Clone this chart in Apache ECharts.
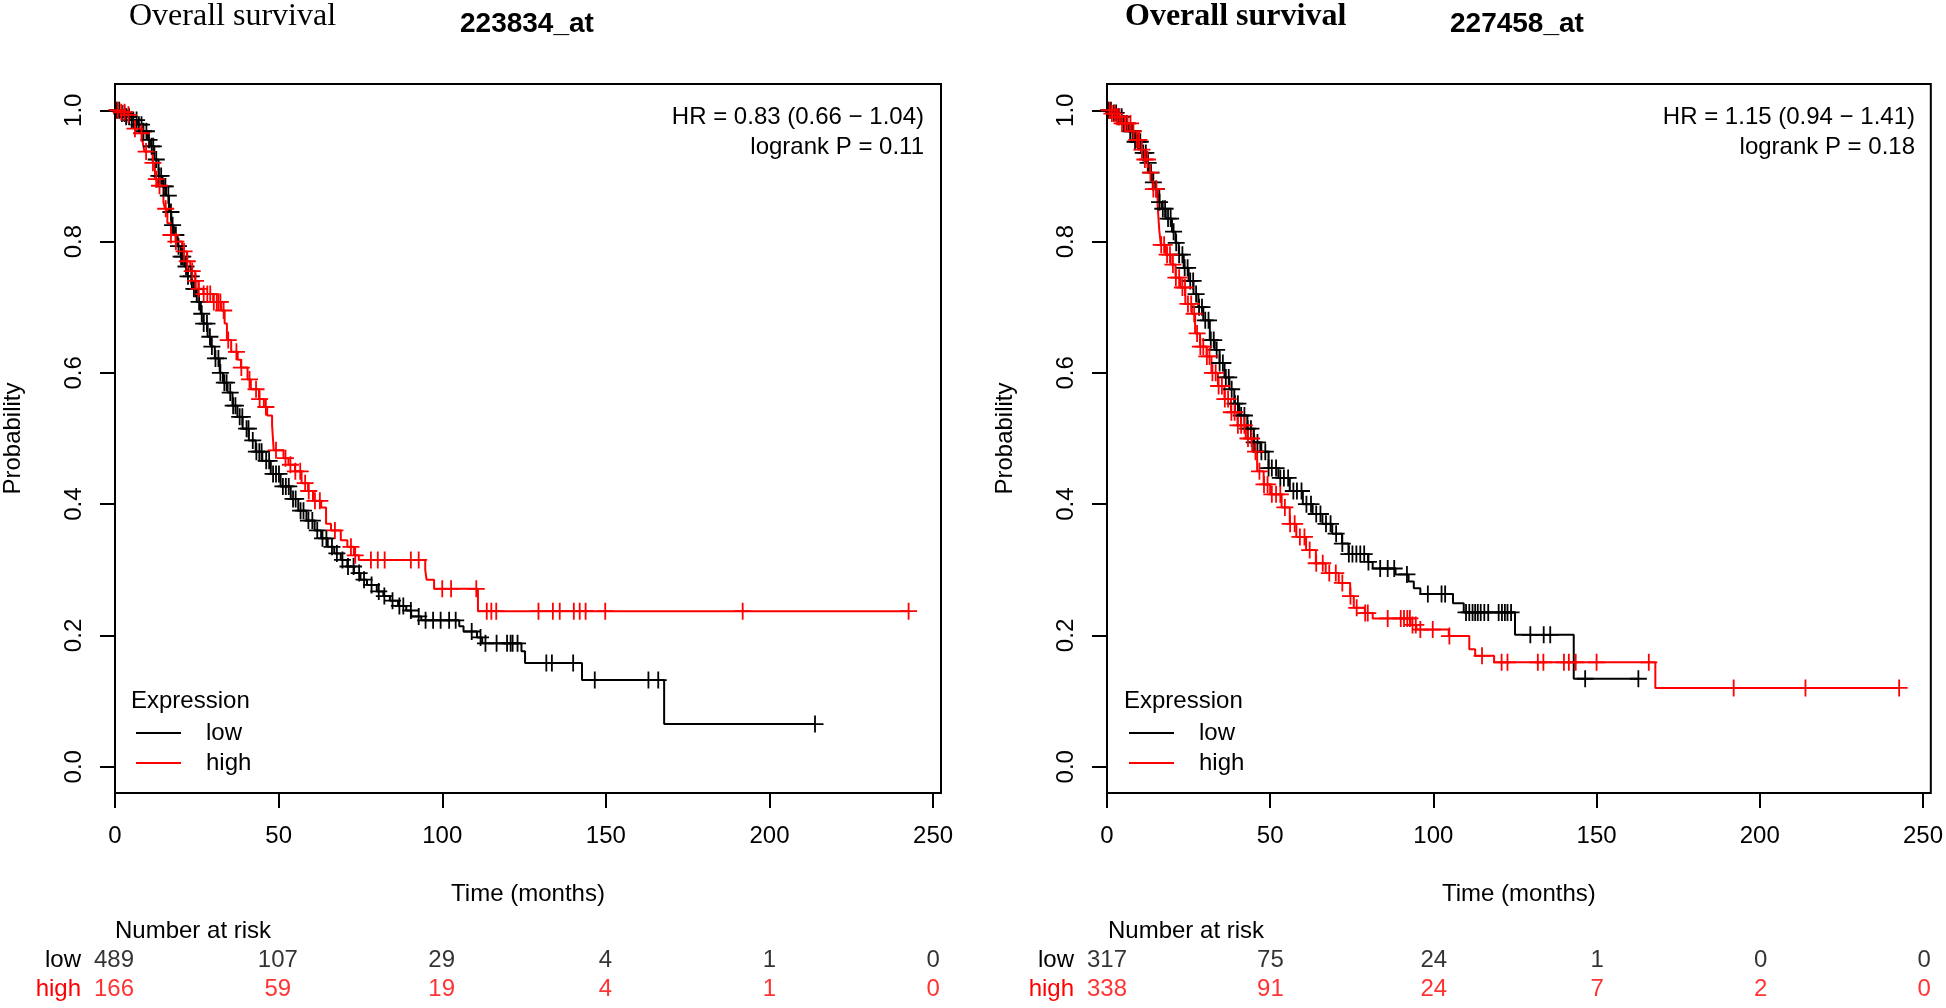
<!DOCTYPE html>
<html><head><meta charset="utf-8">
<script src="https://cdn.jsdelivr.net/npm/echarts@6/dist/echarts.min.js"></script>
<style>html,body{margin:0;padding:0;background:#fff}#c{width:1946px;height:1008px}</style>
</head><body><div id="c"></div>
<script>
// ---------- data ----------
const xTicks = [0, 50, 100, 150, 200, 250];
const yTicks = [0, 0.2, 0.4, 0.6, 0.8, 1.0];
const riskTimes = [0, 50, 100, 150, 200, 250];
const riskRows = ['low', 'high'];
const riskLowA = [489, 107, 29, 4, 1, 0];
const riskHighA = [166, 59, 19, 4, 1, 0];
const riskLowB = [317, 75, 24, 1, 0, 0];
const riskHighB = [338, 91, 24, 7, 2, 0];

const titleA = ['Overall survival', '223834_at'];
const titleB = ['Overall survival', '227458_at'];
const statsA = ['HR = 0.83 (0.66 \u2212 1.04)', 'logrank P = 0.11'];
const statsB = ['HR = 1.15 (0.94 \u2212 1.41)', 'logrank P = 0.18'];

// Kaplan-Meier step points [time, survival]
const kmLowA = [[0,1],[1.5,0.995],[3,0.99],[5,0.985],[7,0.978],[8.5,0.968],[10,0.955],[11,0.945],[12,0.925],[13.3,0.9],[14.5,0.884],[15.6,0.87],[16.5,0.845],[17.2,0.825],[18,0.81],[19.1,0.793],[20.1,0.777],[21.2,0.762],[22.2,0.747],[23.5,0.728],[25,0.708],[26.2,0.69],[27,0.675],[28.3,0.655],[29.3,0.64],[30.5,0.622],[32,0.6],[33,0.585],[34.4,0.57],[35.9,0.55],[37.4,0.533],[39,0.515],[40.9,0.497],[43,0.48],[45,0.466],[47.6,0.446],[50.6,0.427],[53.7,0.408],[56,0.39],[58.5,0.375],[61,0.36],[63,0.348],[65,0.335],[67,0.325],[69,0.315],[71,0.305],[73,0.295],[75,0.285],[77,0.277],[80,0.267],[82,0.26],[84,0.253],[86.5,0.245],[89,0.238],[90.5,0.229],[93.6,0.223],[105.2,0.214],[106.5,0.206],[110.6,0.197],[112.2,0.188],[124.2,0.176],[125.3,0.158],[142.7,0.132],[167.8,0.065],[213.9,0.065]];
const kmHighA = [[0,1],[1,0.997],[3.4,0.993],[4.4,0.985],[5.9,0.972],[7.6,0.965],[8.5,0.95],[9,0.937],[11.5,0.92],[12.2,0.895],[13,0.885],[14.8,0.86],[15.3,0.85],[16,0.828],[17.1,0.81],[18.5,0.8],[20.5,0.785],[22,0.77],[23,0.755],[24.5,0.74],[25.5,0.728],[27,0.72],[30,0.708],[32.5,0.695],[33.5,0.675],[34.2,0.65],[35.5,0.632],[37.5,0.62],[38.5,0.608],[40.5,0.59],[41.5,0.575],[44,0.56],[45.5,0.548],[46.5,0.535],[48,0.52],[48.5,0.482],[51.5,0.47],[53,0.46],[55,0.45],[57,0.432],[59,0.42],[60.5,0.405],[63,0.395],[64.5,0.37],[66,0.36],[69,0.345],[71,0.335],[73,0.322],[74.5,0.315],[94.8,0.3],[95.2,0.285],[97.5,0.271],[110.9,0.237],[242.5,0.237]];
const kmLowB = [[0,1],[2,0.996],[3.5,0.99],[5,0.98],[6.5,0.968],[8.5,0.952],[10.5,0.935],[12,0.92],[12.8,0.905],[14,0.89],[14.8,0.88],[16,0.86],[16.8,0.85],[18,0.835],[19.9,0.815],[21,0.798],[22,0.78],[23.5,0.76],[25,0.74],[26.5,0.72],[28,0.7],[29.5,0.68],[31.5,0.65],[33,0.635],[34.5,0.615],[36,0.593],[37.5,0.575],[39,0.553],[40.5,0.535],[43,0.515],[45,0.494],[47,0.48],[49.5,0.455],[52.5,0.44],[56,0.42],[60,0.4],[63,0.385],[66,0.37],[69,0.355],[72,0.34],[74,0.324],[80,0.312],[81.4,0.302],[88.4,0.293],[92.4,0.282],[94,0.272],[96,0.263],[106,0.249],[109.3,0.235],[125,0.201],[143,0.134],[162.8,0.134]];
const kmHighB = [[0,1],[1.5,0.995],[3,0.99],[4,0.98],[7.5,0.968],[8.5,0.955],[10,0.94],[11.5,0.925],[12.5,0.905],[14,0.88],[15.5,0.857],[16,0.818],[16.5,0.795],[18,0.78],[19.5,0.765],[21,0.745],[22.5,0.73],[24,0.705],[26,0.69],[27,0.66],[28.5,0.64],[30.5,0.625],[32,0.6],[34,0.58],[36,0.56],[38,0.54],[40,0.52],[42.5,0.5],[44.5,0.48],[46,0.45],[48,0.43],[50,0.415],[53.5,0.395],[56,0.37],[58,0.35],[61,0.33],[64,0.31],[67,0.295],[71,0.28],[74.5,0.26],[75.6,0.242],[79,0.234],[81.4,0.226],[93,0.216],[94.8,0.209],[104.7,0.199],[111,0.179],[112.8,0.169],[118.6,0.159],[168,0.12],[242.7,0.12]];

// censoring times
const censLowA = [0.6,1.3,2.1,2.9,3.4,4.3,5.1,5.6,6.6,7.3,8.1,8.7,9.6,10.4,11.2,11.7,12.6,13.4,14.1,14.9,15.4,16.3,17.1,17.6,18.6,19.4,20.2,20.7,21.7,22.3,23.3,24.1,24.6,25.7,26.5,27.1,28.1,29,29.6,30.7,31.6,32.2,33.4,34.1,35.2,36.1,36.8,38.1,38.9,40.2,40.8,42.1,43.2,44.1,44.8,46.2,47.1,48.3,49.2,50.1,51.3,52.2,53.1,54.4,55.2,56.7,57.6,59.1,60.3,61.8,63.4,64.6,66.3,67.8,69.5,71.2,72.9,74.6,76.1,78.4,80.6,82.3,84.8,86.9,88.1,90.4,92.8,94.9,97.2,99.5,102.1,104.1,109,111.7,113.2,116.6,119.8,120.9,121.5,123,131.8,133.5,140,146.6,163,166,213.9];
const censHighA = [0.8,1.9,2.9,4.1,6.1,8.1,9.5,11.6,12.6,13.6,15.5,17.1,18.6,21.1,22.1,23.6,24.6,25.6,27.1,28.2,29.1,30.2,31.1,31.6,32.2,33.2,34.6,37.1,38.6,41.1,43.1,44.2,46.1,49.2,52.1,53.6,55.1,56.6,58.1,59.2,61.1,62.6,67.2,72.1,73.4,78.2,80.3,82.4,90.4,92.8,100,102.7,110.4,113.6,115,116.5,129.4,133.8,135.9,140.2,142,143.8,149.8,191.8,242.5];
const censLowB = [0.5,1.2,2.1,2.8,3.6,4.5,5.2,6.1,7.1,7.8,8.6,9.5,10.2,11.1,11.9,12.6,13.5,14.2,15.1,16.1,17.1,17.8,18.7,19.5,20.4,21.2,22.1,23.1,23.8,24.7,25.5,26.4,27.3,28.2,29.1,30.1,31.1,31.8,32.7,33.6,34.5,35.5,36.4,37.3,38.2,39.2,40.1,41.1,42.1,43.1,44.1,45.1,46.1,47.3,48.5,49.5,50.5,51.8,53.1,54.2,55.5,57.1,58.2,59.6,61.1,62.5,64.1,65.4,67.1,68.5,70.2,72.1,74.1,75.2,76.4,77.6,78.8,80.1,83.7,86,88,91.9,98.3,102.5,103.6,110,111,112,112.8,113.6,114.5,115.6,116.8,120,121,121.9,122.7,123.8,129.7,133.8,135.8,146.5,162.8];
const censHighB = [0.8,1.5,2.3,3.1,3.8,4.6,5.5,6.3,7.2,8.1,9.1,9.8,10.7,11.6,12.4,13.3,14.2,15.1,16.6,17.5,18.4,19.3,20.2,21.1,22.1,23.1,23.9,24.8,25.8,26.7,27.6,28.6,29.5,30.6,31.4,32.3,33.3,34.2,35.2,36.1,37.1,38.1,39.1,40.1,41.1,42.1,43.2,44.3,45.5,46.7,48.1,49.2,50.5,51.8,53.1,54.5,56.1,57.5,59.1,60.5,62.1,64.1,66.1,68.1,70.1,72.1,74.6,76.5,79.1,79.9,86,90,91,92,92.8,93.6,94.6,96,99.8,104.9,114.9,120.9,122.7,132,133.7,140,141.5,143.6,150,166,192,214,242.7];

// ---------- chart ----------
const SANS = 'Liberation Sans, Arial, sans-serif';
const SERIF = 'Liberation Serif, Times New Roman, serif';
const BLACK = '#000000', RED = '#ff0000';
const PLUS = 'path://M0,7.6h17v1.8h-17zM7.6,0h1.8v17h-1.8z';
const LEGEND_ICON = 'path://M0,0h45v2h-45zM64,0h1v0.01h-1z';

function survAt(curve, t) {
  let s = curve[0][1];
  for (const p of curve) { if (p[0] <= t) s = p[1]; else break; }
  return s;
}

const panels = [
  {left: 114, width: 827, km: [kmLowA, kmHighA], cens: [censLowA, censHighA], risk: [riskLowA, riskHighA], title: titleA, stats: statsA, titleBold: 'normal', t1: 129, t2: 460},
  {left: 1107, width: 825, km: [kmLowB, kmHighB], cens: [censLowB, censHighB], risk: [riskLowB, riskHighB], title: titleB, stats: statsB, titleBold: 'bold', t1: 1125, t2: 1450}
];
const PLOT_TOP = 84, PLOT_H = 709, XMAX = 252.4;

const grid = [], xAxis = [], yAxis = [], series = [], title = [], legend = [];
panels.forEach((p, k) => {
  const gMain = grid.length;
  grid.push({left: p.left, top: PLOT_TOP, width: p.width, height: PLOT_H, show: true, borderColor: BLACK, borderWidth: 2, backgroundColor: 'transparent', containLabel: false});
  xAxis.push({gridIndex: gMain, type: 'value', min: 0, max: XMAX, position: 'bottom',
    axisLine: {show: false, onZero: false}, splitLine: {show: false},
    axisTick: {show: true, inside: false, length: 15, customValues: xTicks, lineStyle: {color: BLACK, width: 2}},
    axisLabel: {show: true, customValues: xTicks, margin: 31, fontSize: 24, color: BLACK, fontFamily: SANS},
    name: 'Time (months)', nameLocation: 'middle', nameGap: 89,
    nameTextStyle: {fontSize: 24, color: BLACK, fontFamily: SANS}});
  yAxis.push({gridIndex: gMain, type: 'value', min: -0.04, max: 1.04, position: 'left',
    axisLine: {show: false, onZero: false}, splitLine: {show: false},
    axisTick: {show: true, inside: false, length: 15, customValues: yTicks, lineStyle: {color: BLACK, width: 2}},
    axisLabel: {show: true, customValues: yTicks, rotate: 90, margin: 29, fontSize: 24, color: BLACK, fontFamily: SANS,
      formatter: v => Number(v).toFixed(1)},
    name: 'Probability', nameLocation: 'middle', nameGap: 90,
    nameTextStyle: {fontSize: 24, color: BLACK, fontFamily: SANS}});

  const names = ['low', 'high'], colors = [BLACK, RED];
  [0, 1].forEach(j => {
    series.push({name: names[j], type: 'line', xAxisIndex: gMain, yAxisIndex: gMain, step: 'end',
      data: p.km[j], showSymbol: false, symbol: 'none', color: colors[j],
      lineStyle: {color: colors[j], width: 2}, z: 3, silent: true});
    series.push({name: names[j] + ' censored', type: 'scatter', xAxisIndex: gMain, yAxisIndex: gMain,
      data: p.cens[j].map(t => [t, survAt(p.km[j], t)]), symbol: PLUS, symbolSize: 17,
      itemStyle: {color: colors[j], opacity: 1}, z: 4, silent: true});
  });

  // risk table grid
  const gRisk = grid.length;
  grid.push({left: p.left, top: 945.5, width: p.width, height: 58, show: false});
  xAxis.push({gridIndex: gRisk, type: 'value', min: 0, max: XMAX, show: false});
  yAxis.push({gridIndex: gRisk, type: 'category', data: riskRows, inverse: true,
    axisLine: {show: false}, axisTick: {show: false}, splitLine: {show: false},
    axisLabel: {show: true, interval: 0, margin: 33, fontSize: 24, fontFamily: SANS, color: (v, i) => (v === 'low' ? BLACK : RED)}});
  [0, 1].forEach(j => {
    series.push({name: 'risk ' + names[j], type: 'scatter', xAxisIndex: gRisk, yAxisIndex: gRisk,
      data: riskTimes.map((t, i) => [t, j, p.risk[j][i]]), symbolSize: 0.01, silent: true,
      label: {show: true, position: 'inside', formatter: q => String(q.value[2]), fontSize: 24, fontFamily: SANS, color: colors[j]}});
  });

  // texts
  title.push({text: p.title[0], left: p.t1, top: 1, padding: 0,
    textStyle: {fontSize: 32, fontWeight: p.titleBold, fontFamily: SERIF, color: BLACK}});
  title.push({text: p.title[1], left: p.t2, top: 10, padding: 0,
    textStyle: {fontSize: 28, fontWeight: 'bold', fontFamily: SANS, color: BLACK}});
  const rightEdge = p.left + p.width - 17;
  title.push({text: p.stats[0], right: 1946 - rightEdge, top: 105, padding: 0,
    textStyle: {fontSize: 24, fontWeight: 'normal', fontFamily: SANS, color: BLACK}});
  title.push({text: p.stats[1], right: 1946 - rightEdge, top: 135, padding: 0,
    textStyle: {fontSize: 24, fontWeight: 'normal', fontFamily: SANS, color: BLACK}});
  title.push({text: 'Expression', left: p.left + 17, top: 689, padding: 0,
    textStyle: {fontSize: 24, fontWeight: 'normal', fontFamily: SANS, color: BLACK}});
  title.push({text: 'Number at risk', left: p.left + 1, top: 919, padding: 0,
    textStyle: {fontSize: 24, fontWeight: 'normal', fontFamily: SANS, color: BLACK}});

  legend.push({data: names, left: p.left + 22, top: 721, orient: 'vertical', padding: 0,
    icon: LEGEND_ICON, itemWidth: 65, itemHeight: 2, itemGap: 6, selectedMode: false,
    textStyle: {fontSize: 24, fontFamily: SANS, color: BLACK}});
});

const chart = echarts.init(document.getElementById('c'), null, {renderer: 'canvas'});
chart.setOption({animation: false, backgroundColor: '#ffffff', grid, xAxis, yAxis, series, title, legend});
</script></body></html>
